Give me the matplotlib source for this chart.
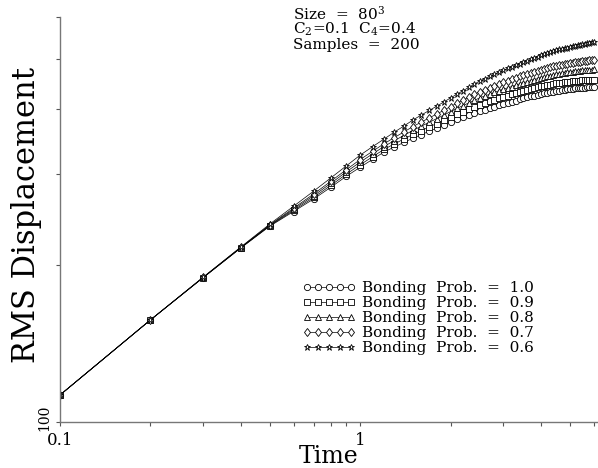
import matplotlib
matplotlib.use("Agg")
import matplotlib.pyplot as plt
from matplotlib.ticker import FixedLocator, NullFormatter
from matplotlib.transforms import ScaledTranslation

plt.rcParams['font.family'] = ['DejaVu Serif']
plt.rcParams['mathtext.fontset'] = 'dejavuserif'

# time steps 0.1 ... 6.0
time = [0.1, 0.2, 0.3, 0.4, 0.5, 0.6, 0.7, 0.8, 0.9, 1.0,
        1.1, 1.2, 1.3, 1.4, 1.5, 1.6, 1.7, 1.8, 1.9, 2.0,
        2.1, 2.2, 2.3, 2.4, 2.5, 2.6, 2.7, 2.8, 2.9, 3.0,
        3.1, 3.2, 3.3, 3.4, 3.5, 3.6, 3.7, 3.8, 3.9, 4.0,
        4.1, 4.2, 4.3, 4.4, 4.5, 4.6, 4.7, 4.8, 4.9, 5.0,
        5.1, 5.2, 5.3, 5.4, 5.5, 5.6, 5.7, 5.8, 5.9, 6.0]

# RMS displacement, bonding prob = 1.0
rms_10 = [112.7, 157.1, 189.5, 216.0, 238.0, 254.0, 268.5, 283.0, 297.0, 309.0,
          320.0, 330.5, 338.0, 345.0, 351.5, 357.0, 362.5, 367.5, 372.5, 377.5,
          382.0, 386.0, 389.5, 393.0, 396.5, 399.0, 401.5, 404.0, 406.5, 409.0,
          411.0, 413.0, 415.0, 418.0, 420.0, 421.5, 423.0, 424.5, 426.0, 427.5,
          428.5, 429.5, 430.5, 432.0, 433.0, 434.0, 434.5, 435.5, 436.0, 437.0,
          437.5, 438.0, 438.5, 438.5, 439.0, 439.5, 440.0, 440.0, 440.5, 441.0]
# bonding prob = 0.9
rms_09 = [112.7, 157.1, 189.6, 216.2, 238.5, 255.2, 270.4, 285.4, 299.8, 312.4,
          323.7, 334.4, 342.6, 350.2, 357.4, 363.5, 369.5, 375.0, 380.5, 386.0,
          391.0, 395.5, 399.6, 403.7, 407.7, 410.7, 413.6, 416.5, 419.4, 422.2,
          424.3, 426.5, 428.6, 431.6, 433.6, 435.2, 436.9, 438.5, 440.3, 441.9,
          443.0, 444.2, 445.2, 446.7, 447.8, 448.7, 449.3, 450.2, 450.7, 451.6,
          452.1, 452.7, 453.2, 453.3, 453.8, 454.2, 454.6, 454.7, 455.1, 455.5]
# bonding prob = 0.8
rms_08 = [112.7, 157.1, 189.7, 216.4, 239.0, 256.5, 272.5, 288.0, 302.9, 316.1,
          327.8, 338.7, 347.7, 355.9, 363.9, 370.7, 377.2, 383.3, 389.3, 395.4,
          400.9, 406.0, 410.7, 415.5, 420.0, 423.6, 426.9, 430.3, 433.6, 436.7,
          439.2, 441.7, 444.1, 447.2, 449.4, 451.4, 453.4, 455.3, 457.6, 459.5,
          460.9, 462.5, 463.7, 465.4, 466.7, 467.7, 468.6, 469.6, 470.3, 471.2,
          471.9, 472.7, 473.4, 473.9, 474.5, 475.0, 475.5, 475.8, 476.3, 476.8]
# bonding prob = 0.7
rms_07 = [112.7, 157.1, 189.8, 216.6, 239.4, 257.8, 274.5, 290.6, 305.8, 319.7,
          331.7, 342.8, 352.5, 361.4, 370.1, 377.5, 384.6, 391.1, 397.7, 404.3,
          410.4, 415.9, 421.3, 426.7, 431.8, 435.9, 439.6, 443.4, 447.1, 450.6,
          453.3, 456.2, 458.9, 462.1, 464.6, 466.8, 469.2, 471.4, 474.1, 476.3,
          478.0, 479.9, 481.3, 483.3, 484.8, 485.9, 486.9, 488.1, 489.0, 489.9,
          490.8, 491.8, 492.8, 493.5, 494.2, 494.8, 495.5, 496.0, 496.6, 497.2]
# bonding prob = 0.6
rms_06 = [112.7, 157.1, 190.0, 217.0, 240.3, 260.0, 278.0, 295.0, 311.0, 326.0,
          338.5, 350.0, 361.0, 371.0, 381.0, 389.5, 397.5, 405.0, 412.5, 420.0,
          427.0, 433.5, 440.0, 446.5, 452.5, 457.5, 462.0, 466.5, 471.0, 475.0,
          478.5, 482.0, 485.5, 489.0, 492.0, 495.0, 498.0, 501.0, 504.5, 507.5,
          510.0, 512.5, 514.5, 517.0, 519.0, 520.5, 522.0, 523.5, 525.0, 526.0,
          527.5, 529.0, 530.5, 532.0, 533.0, 534.0, 535.0, 536.0, 537.0, 538.0]

series = [(rms_10, 'o', 'Bonding  Prob.  =  1.0'),
          (rms_09, 's', 'Bonding  Prob.  =  0.9'),
          (rms_08, '^', 'Bonding  Prob.  =  0.8'),
          (rms_07, 'd', 'Bonding  Prob.  =  0.7'),
          (rms_06, '*', 'Bonding  Prob.  =  0.6')]

W, H = 598, 468
fig = plt.figure(figsize=(W / 100, H / 100), dpi=100)
ax = fig.add_axes([60 / W, 46 / H, 538 / W, 404.6 / H])

for vals, mk, lab in series:
    ax.plot(time, vals, color='black', linewidth=0.5, marker=mk,
            markersize=4.5, markerfacecolor='white', markeredgecolor='black',
            markeredgewidth=0.6, label=lab)

ax.set_xscale('log')
ax.set_yscale('log')
ax.set_xlim(0.1, 6.2)
ax.set_ylim(100, 600)

for s in ['top', 'right']:
    ax.spines[s].set_visible(False)
for s in ['left', 'bottom']:
    ax.spines[s].set_color('#777777')
    ax.spines[s].set_linewidth(1.0)

ax.xaxis.set_major_locator(FixedLocator([0.1, 1]))
ax.xaxis.set_minor_locator(FixedLocator([0.2, 0.3, 0.4, 0.5, 0.6, 0.7, 0.8, 0.9,
                                         2, 3, 4, 5, 6]))
ax.set_xticklabels(['0.1', '1'])
ax.xaxis.set_minor_formatter(NullFormatter())
ax.yaxis.set_major_locator(FixedLocator([100]))
ax.yaxis.set_minor_locator(FixedLocator([200, 300, 400, 500, 600]))
ax.set_yticklabels(['100'], rotation=90, va='center', fontsize=10)
ax.yaxis.set_minor_formatter(NullFormatter())
ax.tick_params(axis='both', which='both', direction='out', color='#555555',
               width=0.8, length=3)
ax.tick_params(axis='x', labelsize=12, pad=4)
ax.tick_params(axis='y', pad=3)

# nudge the "100" label up a little so it clears "0.1"
for lbl in ax.get_yticklabels():
    lbl.set_transform(lbl.get_transform() +
                      ScaledTranslation(0, 4 / 100, fig.dpi_scale_trans))

ax.set_xlabel('Time', fontsize=17, va='top')
ax.xaxis.set_label_coords(0.5, -0.058)
ax.set_ylabel('RMS Displacement', fontsize=22, va='center')
ax.yaxis.set_label_coords(-0.062, 0.512)

# annotation block, baselines in figure pixels from the top
info = ['Size  =  80$^3$', 'C$_2$=0.1  C$_4$=0.4', 'Samples  =  200']
for i, line in enumerate(info):
    fig.text(293 / W, 1 - (19.5 + 14.5 * i) / H, line, fontsize=11,
             va='baseline', ha='left')

ax.legend(loc='upper left', bbox_to_anchor=(302 / W, 1 - 281 / H),
          bbox_transform=fig.transFigure, frameon=False, numpoints=5,
          handlelength=3.5, handletextpad=0.45, labelspacing=0.07,
          fontsize=11, borderpad=0.0, borderaxespad=0.0)

fig.savefig('out.png', dpi=100)
